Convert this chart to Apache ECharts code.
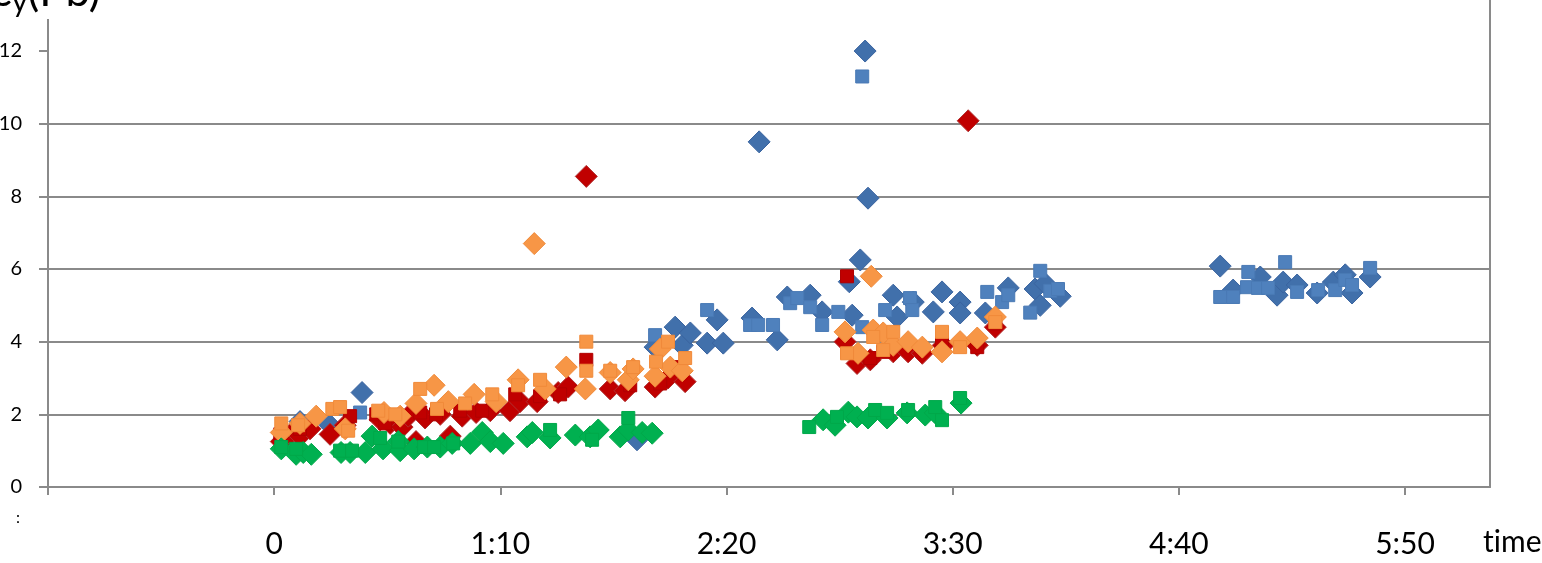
<!DOCTYPE html>
<html>
<head>
<meta charset="utf-8">
<script src="https://cdn.jsdelivr.net/npm/echarts@6/dist/echarts.min.js"></script>
<style>
    html, body { margin: 0; padding: 0; background: #fff; }
    #chart { width: 1542px; height: 563px; }
</style>
</head>
<body>
<div id="chart"></div>
<script>
// time in minutes, value
var blueDiamond = [[8.0,1.8],[17.3,1.7],[27.2,2.6],[112.3,1.3],[117.9,3.85],[124.1,4.4],[126.3,3.9],[128.8,4.24],
    [134.0,3.96],[137.1,4.6],[139.0,3.96],[147.9,4.65],[150.1,9.5],[155.7,4.05],[158.8,5.23],[165.9,5.28],[169.6,4.82],
    [178.0,5.65],[178.9,4.73],[181.4,6.25],[182.9,12.0],[183.8,7.95],[191.6,5.28],[192.8,4.68],[197.8,5.09],[204.0,4.82],
    [206.7,5.37],[212.3,5.09],[212.3,4.79],[220.1,4.79],[227.2,5.48],[235.5,5.45],[237.1,5.0],[238.6,5.6],[243.3,5.25],
    [292.8,6.08],[296.8,5.42],[305.2,5.78],[310.4,5.28],[312.3,5.64],[316.6,5.56],[322.8,5.34],[327.8,5.64],[331.5,5.84],
    [333.6,5.34],[339.2,5.78]];
var blueSquare = [[7.4,1.7],[26.6,2.05],[117.9,4.18],[134.0,4.87],[147.3,4.46],[149.8,4.46],[154.4,4.46],[159.7,5.06],
    [161.9,5.2],[165.9,4.95],[169.6,4.46],[174.6,4.82],[182.0,11.3],[182.0,4.4],[189.1,4.87],[196.8,5.2],[197.5,4.87],
    [220.7,5.37],[225.3,5.09],[227.2,5.28],[234.0,4.8],[237.1,5.95],[240.2,5.4],[242.6,5.45],
    [292.8,5.23],[296.8,5.23],[301.1,5.5],[301.5,5.92],[304.5,5.48],[307.6,5.48],[312.9,6.19],[316.6,5.37],[323.1,5.42],
    [328.4,5.42],[331.5,5.7],[333.6,5.56],[339.2,6.03]];
var redDiamond = [[2.2,1.25],[5.0,1.45],[8.0,1.4],[11.1,1.6],[17.3,1.45],[22.0,1.7],[32.8,1.85],[35.9,1.75],[39.6,1.65],
    [41.5,1.95],[43.9,1.25],[46.7,1.9],[51.4,2.0],[54.5,1.4],[58.2,1.95],[62.5,2.05],[66.9,2.1],[73.0,2.1],[76.1,2.35],
    [81.4,2.35],[87.9,2.6],[91.0,2.75],[96.6,8.55],[104.0,2.7],[108.6,2.65],[117.9,2.75],[121.9,3.0],[127.2,2.9],
    [176.7,4.0],[180.4,3.4],[184.5,3.5],[191.6,3.72],[196.2,3.72],[200.6,3.68],[207.1,3.9],[214.8,10.08],[217.6,3.9],[223.2,4.4]];
var redSquare = [[1.9,1.45],[8.0,1.6],[23.5,1.95],[31.6,2.0],[34.4,1.75],[45.2,2.05],[50.1,2.0],[57.6,2.1],[64.4,2.1],
    [74.6,2.55],[82.3,2.5],[88.5,2.55],[96.6,3.5],[110.2,2.8],[119.5,2.85],[125.7,3.3],[177.3,5.8],[184.5,3.55],
    [188.5,3.72],[206.7,3.96],[217.6,3.85],[223.2,4.5]];
var orangeDiamond = [[2.2,1.5],[8.0,1.75],[13.0,1.95],[22.0,1.6],[34.0,2.05],[39.0,1.95],[43.9,2.3],[49.5,2.8],[53.9,2.35],
    [61.9,2.55],[68.7,2.35],[75.5,2.95],[80.5,6.7],[83.9,2.7],[90.4,3.3],[96.3,2.7],[104.0,3.15],[109.6,2.95],[111.1,3.25],
    [117.9,3.05],[119.5,3.8],[122.6,3.3],[126.3,3.2],[176.7,4.27],[180.7,3.68],[184.8,5.8],[185.4,4.32],[188.5,4.24],
    [191.6,3.9],[196.2,4.0],[200.6,3.85],[206.7,3.72],[212.3,4.0],[217.6,4.1],[223.2,4.68]];
var orangeSquare = [[2.2,1.75],[7.4,1.7],[18.0,2.15],[20.4,2.2],[22.9,1.55],[32.2,2.1],[37.5,2.0],[45.2,2.7],[50.4,2.15],
    [59.1,2.3],[67.5,2.55],[75.5,2.8],[82.3,2.95],[96.6,4.0],[96.6,3.2],[104.0,3.2],[111.1,3.3],[118.2,3.45],[121.9,4.0],
    [127.2,3.55],[177.3,3.68],[185.4,4.13],[188.5,3.77],[191.6,4.27],[206.7,4.27],[212.3,3.85],[223.2,4.54]];
var greenDiamond = [[2.2,1.05],[6.8,0.9],[9.0,0.95],[11.5,0.9],[20.7,0.95],[23.5,0.95],[28.2,0.95],[30.3,1.4],[33.7,1.05],
    [38.4,1.25],[39.0,1.0],[43.3,1.05],[47.4,1.1],[51.4,1.1],[55.1,1.2],[60.7,1.2],[64.4,1.5],[66.9,1.25],[70.9,1.2],
    [78.3,1.38],[79.9,1.5],[85.4,1.35],[93.2,1.43],[97.8,1.38],[100.3,1.57],[107.1,1.38],[109.6,1.57],[113.9,1.5],[117.0,1.48],
    [169.9,1.85],[173.6,1.7],[177.7,2.06],[180.4,1.93],[183.8,1.9],[189.7,1.9],[195.9,2.04],[201.5,1.98],[204.6,2.04],[212.6,2.31]];
var greenSquare = [[2.2,1.1],[6.8,1.05],[20.4,1.0],[24.1,1.0],[32.8,1.35],[38.4,1.25],[46.4,1.1],[49.5,1.1],[55.4,1.2],
    [85.4,1.57],[98.4,1.3],[109.6,1.9],[165.6,1.65],[174.2,1.93],[186.0,2.12],[189.7,2.04],[196.2,2.12],[204.6,2.2],
    [206.7,1.84],[212.3,2.45]];

var xTicks = [-70, 0, 70, 140, 210, 280, 350];
var yTicks = [0, 2, 4, 6, 8, 10, 12];

var FONT = 'Lato, "Open Sans", sans-serif';
var GRID_COLOR = '#8a8a8a';

function fmtTime(v) {
    if (v < 0) return '';
    if (v === 0) return '0';
    var m = v % 60;
    return Math.floor(v / 60) + ':' + (m < 10 ? '0' + m : m);
}

function makeSeries(name, data, symbol, size, color, border) {
    return {
        name: name,
        type: 'scatter',
        data: data,
        symbol: symbol,
        symbolSize: size,
        itemStyle: {color: color, borderColor: border, borderWidth: 1, opacity: 1},
        emphasis: {disabled: true}
    };
}

var chart = echarts.init(document.getElementById('chart'));
var option = {
    animation: false,
    backgroundColor: '#fff',
    grid: {left: 48, right: 52, top: 0, bottom: 76, outerBoundsMode: 'none', containLabel: false},
    xAxis: {
        type: 'value',
        min: -70,
        max: 376.3,
        splitLine: {show: false},
        axisLine: {show: true, onZero: false, lineStyle: {color: GRID_COLOR, width: 2}},
        axisTick: {show: true, length: 8, customValues: xTicks, lineStyle: {color: GRID_COLOR, width: 2}},
        axisLabel: {
            customValues: xTicks,
            formatter: fmtTime,
            fontFamily: FONT, fontSize: 30, color: '#000', margin: 42
        }
    },
    yAxis: [{
        type: 'value',
        min: 0,
        max: 13.405,
        interval: 2,
        splitLine: {show: true, showMaxLine: false, lineStyle: {color: GRID_COLOR, width: 2}},
        axisLine: {show: true, onZero: false, lineStyle: {color: GRID_COLOR, width: 2}},
        axisTick: {show: true, length: 9, customValues: yTicks, lineStyle: {color: GRID_COLOR, width: 2}},
        axisLabel: {customValues: yTicks, fontFamily: FONT, fontSize: 20, color: '#000', margin: 26}
    }, {
        type: 'value',
        position: 'right',
        min: 0,
        max: 13.405,
        splitLine: {show: false},
        axisTick: {show: false},
        axisLabel: {show: false},
        axisLine: {show: true, onZero: false, lineStyle: {color: GRID_COLOR, width: 2}}
    }],
    graphic: [
        {type: 'rect', left: 38, top: 0, shape: {width: 20, height: 19}, style: {fill: '#fff'}, z: 100},
        {
            type: 'text', left: -8, top: -30, z: 101,
            style: {
                text: '{e|ε}{s|y}{e|(Pb)}',
                rich: {
                    e: {fontFamily: FONT, fontSize: 44, fill: '#000'},
                    s: {fontFamily: FONT, fontSize: 30, fill: '#000', padding: [20, 0, 0, 0]}
                }
            }
        },
        {type: 'text', left: 1483, top: 527, z: 101, style: {text: 't\u200Cime', fontFamily: FONT, fontSize: 30, fill: '#000'}},
        {type: 'text', left: 16, top: 510, z: 101, style: {text: ':', fontFamily: FONT, fontSize: 16, fill: '#000'}}
    ],
    series: [
        makeSeries('blueD', blueDiamond, 'diamond', 22, '#4170AB', '#3A64A0'),
        makeSeries('blueS', blueSquare, 'rect', 13, '#4F81BD', '#4A7AB5'),
        makeSeries('redD', redDiamond, 'diamond', 22, '#C00000', '#B03030'),
        makeSeries('redS', redSquare, 'rect', 13, '#C00000', '#B00000'),
        makeSeries('orangeD', orangeDiamond, 'diamond', 22, '#F79646', '#F08A3A'),
        makeSeries('orangeS', orangeSquare, 'rect', 13, '#F79646', '#F08A3A'),
        makeSeries('greenD', greenDiamond, 'diamond', 22, '#00B050', '#00A84A'),
        makeSeries('greenS', greenSquare, 'rect', 13, '#00B050', '#00A84A')
    ]
};
chart.setOption(option);
window.onresize = chart.resize;
</script>
</body>
</html>
